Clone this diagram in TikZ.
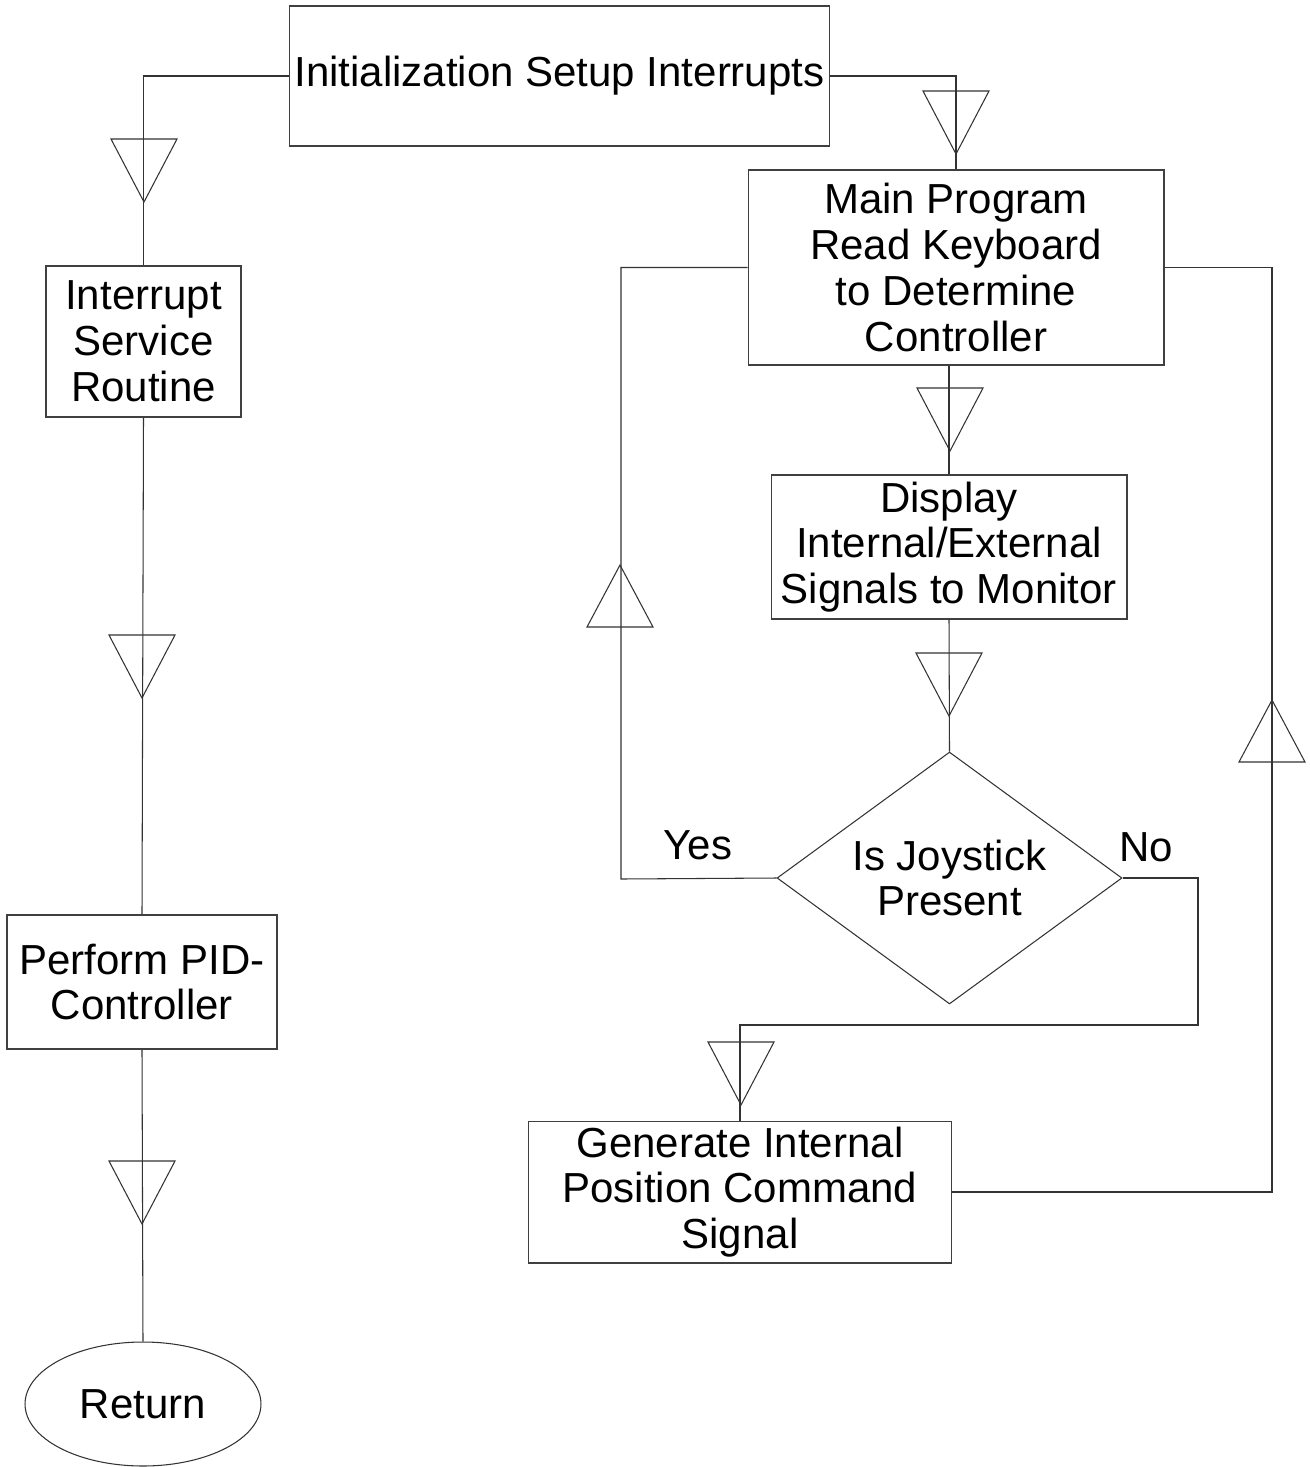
\documentclass[tikz,border=0pt]{standalone}
\usepackage{fontspec}
\setmainfont{Liberation Sans}
\usetikzlibrary{shapes.geometric}

\begin{document}
\begin{tikzpicture}[x=0.02cm, y=-0.02cm]
%define

\tikzstyle{state_box} = [rectangle, draw=black!75, line width=0.6pt, align=center, inner sep=0pt, font=\fontsize{23.9}{26.1}\selectfont]
\tikzstyle{state_dec} = [diamond, draw=black!80, line width=0.6pt, align=center, inner sep=0pt, aspect=1.37, font=\fontsize{23.9}{26.1}\selectfont]
\tikzstyle{state_end} = [ellipse, draw=black!80, line width=0.6pt, inner sep=0pt, font=\fontsize{23.9}{26.1}\selectfont]
\tikzstyle{label_txt} = [inner sep=0pt, font=\fontsize{23.9}{26.1}\selectfont]
\tikzstyle{line} = [draw=black!80, line width=0.6pt]
\tikzset{
  tri_down/.pic={\draw[line] (-33,0) -- (33,0) -- (0,63) -- cycle;},
  tri_up/.pic={\draw[line] (-33,0) -- (33,0) -- (0,-62) -- cycle;}
}

\useasboundingbox (0,0) rectangle (1309,1467);

%left column
\node[state_box, minimum width=10.82cm, minimum height=2.8cm](state_Init) at (559.5,76){Initialization Setup Interrupts};
\node[state_box, minimum width=3.9cm, minimum height=3.02cm](state_ISR) at (143.5,341.5){Interrupt\\Service\\Routine};
\node[state_box, minimum width=5.4cm, minimum height=2.68cm](state_PID) at (142,982){Perform PID-\\Controller};
\node[state_end, minimum width=4.72cm, minimum height=2.48cm](state_Return) at (143,1404){Return};

%right column
\node[state_box, minimum width=8.32cm, minimum height=3.9cm](state_Main) at (956,267.5){Main Program\\Read Keyboard\\to Determine\\Controller};
\node[state_box, minimum width=7.12cm, minimum height=2.88cm](state_Display) at (949,547){Display\\Internal/External\\Signals to Monitor};
\node[state_dec, minimum width=6.9cm, minimum height=5.04cm](state_Joy) at (949.5,878){Is Joystick\\Present};
\node[state_box, minimum width=8.48cm, minimum height=2.84cm](state_Gen) at (740,1192){Generate Internal\\Position Command\\Signal};
\node[label_txt](label_Yes) at (698,845){Yes};
\node[label_txt](label_No) at (1146,847){No};

\coordinate (rail_Yes) at (621,879);
\coordinate (rail_No) at (1198,1025);
\coordinate (rail_Back) at (1272,700);

%line
\draw[line](state_Init.west) -| (state_ISR.north); %Init->ISR
\draw[line](state_Init.east) -| (state_Main.north); %Init->Main
\draw[line](state_ISR.south) -- (state_PID.north); %ISR->PID
\draw[line](state_PID.south) -- (state_Return.north); %PID->Return
\draw[line](state_Main.south -| state_Display.north) -- (state_Display.north); %Main->Display
\draw[line](state_Display.south) -- (state_Joy.north); %Display->Joy
\draw[line](state_Joy.west) -- (rail_Yes) |- (state_Main.west); %Yes->Main
\draw[line](state_Joy.east) -| (rail_No) -| (state_Gen.north); %No->Gen
\draw[line](state_Gen.east) -| (rail_Back) |- (state_Main.east); %Gen->Main

%triangles
\pic at (144,139) {tri_down};
\pic at (956,91) {tri_down};
\pic at (950,388) {tri_down};
\pic at (949,653) {tri_down};
\pic at (142,635) {tri_down};
\pic at (142,1161) {tri_down};
\pic at (741,1042) {tri_down};
\pic at (620,627) {tri_up};
\pic at (1272,762) {tri_up};

\end{tikzpicture}
\end{document}
